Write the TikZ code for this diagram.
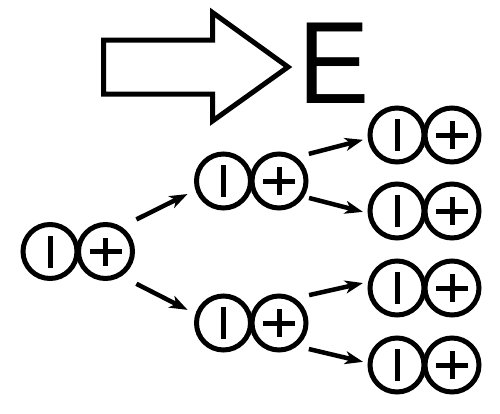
\documentclass[tikz,border=0pt]{standalone}
\usepackage{fontspec}
\setmainfont{Liberation Sans}
\usetikzlibrary{arrows.meta}
\tikzset{
  circ/.style={circle, draw, line width=5pt, minimum size=54pt, inner sep=0pt},
  negc/.style={circ, path picture={\draw[line width=5pt]
      ([yshift=-16pt]path picture bounding box.center) -- ([yshift=16pt]path picture bounding box.center);}},
  posc/.style={circ, path picture={\draw[line width=5pt]
      ([xshift=-16pt]path picture bounding box.center) -- ([xshift=16pt]path picture bounding box.center)
      ([yshift=-14pt]path picture bounding box.center) -- ([yshift=14pt]path picture bounding box.center);}},
  arr/.style={line width=4.5pt, -{Stealth[length=18pt,width=13pt,inset=5pt]}},
  bigarrow/.style={line width=5pt, miter limit=10, line join=miter}
}
\begin{document}
\begin{tikzpicture}[x=1pt,y=-1pt]
\useasboundingbox (0,0) rectangle (500,413);
% field arrow
\draw[bigarrow] (103.5,40) -- (212.5,40) -- (212.5,12.5) -- (288,67) -- (212.5,121) -- (212.5,94) -- (103.5,94) -- cycle;
\node[font=\fontsize{117}{117}\selectfont, anchor=base west, inner sep=0pt, xscale=0.91] (E) at (298.6,103) {E};
% dipoles
\node[negc] (Lm) at (50,251.5) {};
\node[posc] (Lp) at (105.5,251.5) {};
\node[negc] (Tm) at (223.5,181) {};
\node[posc] (Tp) at (279,181) {};
\node[negc] (Bm) at (223.5,323) {};
\node[posc] (Bp) at (279,323) {};
\node[negc] (R1m) at (397,135) {};
\node[posc] (R1p) at (452,135) {};
\node[negc] (R2m) at (397,211) {};
\node[posc] (R2p) at (452,211) {};
\node[negc] (R3m) at (397,288) {};
\node[posc] (R3p) at (452,288) {};
\node[negc] (R4m) at (397,365) {};
\node[posc] (R4p) at (452,365) {};
% connectors
\draw[arr, shorten <=16.6pt, shorten >=8.8pt] (Lp.57) -- (Tm.198);
\draw[arr, shorten <=16.6pt, shorten >=8.8pt] (Lp.-57) -- (Bm.162);
\draw[arr, shorten <=12.9pt, shorten >=4.9pt] (Tp.54) -- (R1m.187);
\draw[arr, shorten <=5.2pt, shorten >=4.8pt] (Tp.-32) -- (R2m.184);
\draw[arr, shorten <=14.4pt, shorten >=5.3pt] (Bp.57) -- (R3m.168);
\draw[arr, shorten <=12pt, shorten >=4.7pt] (Bp.-52) -- (R4m.176);
\end{tikzpicture}
\end{document}
